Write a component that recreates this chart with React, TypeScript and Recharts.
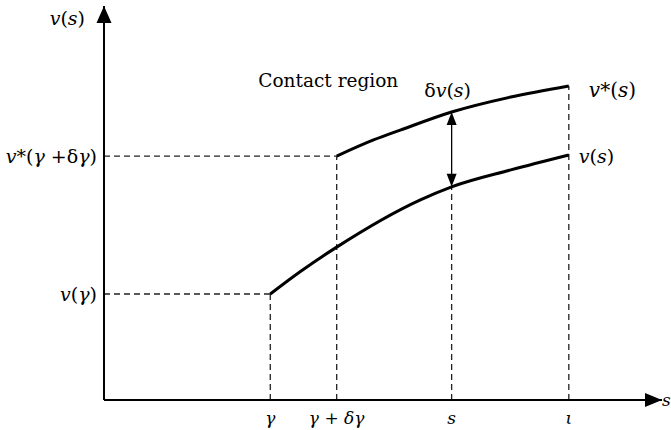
import React from 'react'
import {
  ComposedChart,
  Line,
  XAxis,
  YAxis,
  ReferenceLine,
  ReferenceDot,
} from 'recharts'

// s-axis positions of the marked points: gamma, gamma + dgamma, s, iota
const sTicks = [2.98, 4.17, 6.23, 8.33]
// v-axis positions: v(gamma), v*(gamma + dgamma)
const vTicks = [2.69, 6.19]

// v(s) lower curve
const lowerS = [2.98, 3.52, 4.17, 5.67, 6.23, 7.29, 8.33]
const lowerV = [2.69, 3.26, 3.88, 5.08, 5.41, 5.84, 6.22]

// v*(s) upper curve (contact region)
const upperS = [4.17, 4.83, 5.31, 6.23, 7.29, 8.33]
const upperV = [6.19, 6.6, 6.85, 7.31, 7.69, 7.97]

type Part = [string, boolean]

const sTickLabels: Part[][] = [
  [['γ', true]],
  [['γ', true], [' + ', false], ['δγ', true]],
  [['s', true]],
  [['ι', true]],
]
const vTickLabels: Part[][] = [
  [['v', true], ['(', false], ['γ', true], [')', false]],
  [['v', true], ['*', false], ['(', false], ['γ', true], [' +', false], ['δ', false], ['γ', true], [')', false]],
]

const vOfS: Part[] = [['v', true], ['(', false], ['s', true], [')', false]]
const vStarOfS: Part[] = [['v', true], ['*', false], ['(', false], ['s', true], [')', false]]
const deltaV: Part[] = [['δ', false], ['v', true], ['(', false], ['s', true], [')', false]]
const contact: Part[] = [['Contact region', false]]
const sAxis: Part[] = [['s', true]]

const lower = lowerS.map((s, i) => ({ s, v: lowerV[i] }))
const upper = upperS.map((s, i) => ({ s, v: upperV[i] }))

const FONT = '"DejaVu Serif", "Liberation Serif", serif'

function MathText({ parts, x, y, anchor = 'start', size = 19 }: any) {
  return (
    <text
      x={x}
      y={y}
      textAnchor={anchor}
      dominantBaseline="central"
      fill="#000"
      style={{ fontFamily: FONT, fontSize: size }}
    >
      {parts.map(([t, it]: Part, i: number) => (
        <tspan key={i} style={{ fontStyle: it ? 'italic' : 'normal', fontFamily: FONT }}>{t}</tspan>
      ))}
    </text>
  )
}

const XTick = ({ x, y, payload }: any) => {
  const i = sTicks.indexOf(payload.value)
  if (i < 0) return null
  return <MathText parts={sTickLabels[i]} x={x} y={y + 10} anchor="middle" size={17} />
}

const YTick = ({ x, y, payload }: any) => {
  const i = vTicks.indexOf(payload.value)
  if (i < 0) return null
  return <MathText parts={vTickLabels[i]} x={x + 1} y={y} anchor="end" />
}

const label = (parts: Part[], dx: number, dy: number, anchor = 'start', size = 19) => (p: any) =>
  <MathText parts={parts} x={p.cx + dx} y={p.cy + dy} anchor={anchor} size={size} />

const arrowRight = (p: any) => (
  <polygon points={`${p.cx},${p.cy} ${p.cx - 17},${p.cy - 7} ${p.cx - 17},${p.cy + 7}`} fill="#000" />
)
const arrowUp = (size: number, half: number) => (p: any) => (
  <polygon points={`${p.cx},${p.cy} ${p.cx - half},${p.cy + size} ${p.cx + half},${p.cy + size}`} fill="#000" />
)
const arrowDown = (size: number, half: number) => (p: any) => (
  <polygon points={`${p.cx},${p.cy} ${p.cx - half},${p.cy - size} ${p.cx + half},${p.cy - size}`} fill="#000" />
)

const dash = { stroke: '#222', strokeWidth: 1.3, strokeDasharray: '6 4' }

export default function App() {
  const [g, gd, s, iota] = sTicks
  const [vg, vgd] = vTicks
  const lowAtS = lowerV[lowerS.indexOf(s)]
  const upAtS = upperV[upperS.indexOf(s)]
  const upEnd = upperV[upperV.length - 1]
  const lowEnd = lowerV[lowerV.length - 1]
  return (
    <div style={{ position: 'absolute', left: 0, top: 0, width: 671, height: 430, background: '#fff' }}>
      <ComposedChart width={671} height={430} margin={{ top: 6, right: 9, bottom: 0, left: 0 }}>
        <XAxis
          type="number"
          dataKey="s"
          domain={[0, 10]}
          ticks={sTicks}
          interval={0}
          tickLine={false}
          axisLine={{ stroke: '#000', strokeWidth: 2 }}
          tick={<XTick />}
          height={30}
          allowDataOverflow
        />
        <YAxis
          type="number"
          dataKey="v"
          domain={[0, 10]}
          ticks={vTicks}
          interval={0}
          tickLine={false}
          axisLine={{ stroke: '#000', strokeWidth: 2 }}
          tick={<YTick />}
          width={104}
          allowDataOverflow
        />

        <ReferenceLine segment={[{ x: 0, y: vg }, { x: g, y: vg }]} {...dash} />
        <ReferenceLine segment={[{ x: g, y: 0 }, { x: g, y: vg }]} {...dash} />
        <ReferenceLine segment={[{ x: 0, y: vgd }, { x: gd, y: vgd }]} {...dash} />
        <ReferenceLine segment={[{ x: gd, y: 0 }, { x: gd, y: vgd }]} {...dash} />
        <ReferenceLine segment={[{ x: s, y: 0 }, { x: s, y: lowAtS }]} {...dash} />
        <ReferenceLine segment={[{ x: iota, y: 0 }, { x: iota, y: upEnd }]} {...dash} />

        <Line data={lower} dataKey="v" type="monotone" stroke="#000" strokeWidth={3} dot={false} isAnimationActive={false} />
        <Line data={upper} dataKey="v" type="monotone" stroke="#000" strokeWidth={3} dot={false} isAnimationActive={false} />

        <ReferenceLine segment={[{ x: s, y: lowAtS + 0.25 }, { x: s, y: upAtS - 0.25 }]} stroke="#000" strokeWidth={1.3} />
        <ReferenceDot x={s} y={upAtS} shape={arrowUp(13, 5)} ifOverflow="visible" />
        <ReferenceDot x={s} y={lowAtS} shape={arrowDown(13, 5)} ifOverflow="visible" />

        <ReferenceDot x={10} y={0} shape={arrowRight} ifOverflow="visible" />
        <ReferenceDot x={0} y={10} shape={arrowUp(17, 7.5)} ifOverflow="visible" />

        <ReferenceDot x={10} y={0} shape={label(sAxis, 0, 0, 'start', 17)} ifOverflow="visible" />
        <ReferenceDot x={0} y={10} shape={label(vOfS, -19, 12, 'end')} ifOverflow="visible" />
        <ReferenceDot x={g} y={upEnd} shape={label(contact, -12, -6, 'start', 18.5)} ifOverflow="visible" />
        <ReferenceDot x={s} y={upAtS} shape={label(deltaV, -4, -22, 'middle')} ifOverflow="visible" />
        <ReferenceDot x={iota} y={upEnd} shape={label(vStarOfS, 20, 4, 'start', 20)} ifOverflow="visible" />
        <ReferenceDot x={iota} y={lowEnd} shape={label(vOfS, 10, 1)} ifOverflow="visible" />
      </ComposedChart>
    </div>
  )
}
